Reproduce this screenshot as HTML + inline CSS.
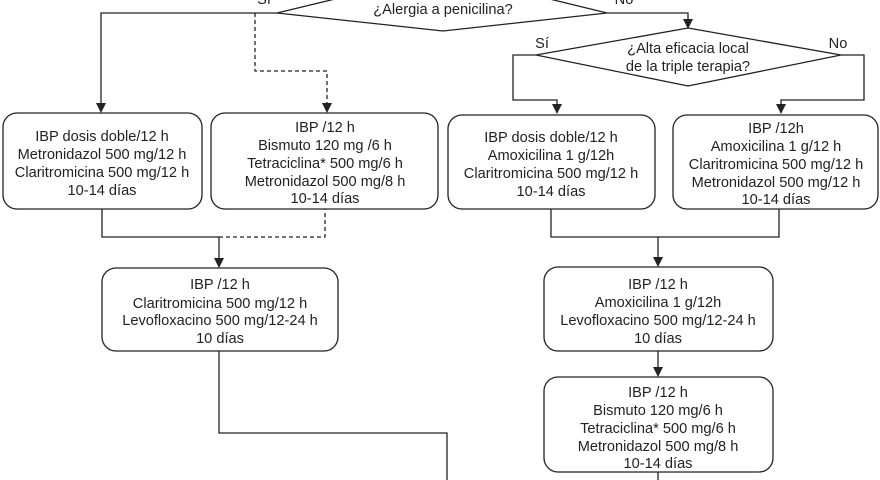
<!DOCTYPE html>
<html><head><meta charset="utf-8"><style>
html,body{margin:0;padding:0;background:#fff;}
svg{display:block}
text{font-family:"Liberation Sans",sans-serif;font-size:14.6px;fill:#222;text-anchor:middle}
</style></head><body>
<svg width="880" height="480" viewBox="0 0 880 480" xmlns="http://www.w3.org/2000/svg">
<g stroke="#222" stroke-width="1.3" fill="none">
<polygon points="443,-27 607,13 443,31 277,13" fill="#fff"/>
<polyline points="277,13 101,13 101,104"/>
<polyline points="255,13 255,71 327,71 327,104" stroke-dasharray="4,3"/>
<polyline points="607,13 688,13 688,20"/>
<polygon points="688,28 841,55 688,86 536,55" fill="#fff"/>
<polyline points="536,55 513,55 513,100 557,100 557,104"/>
<polyline points="841,55 864,55 864,100 781,100 781,104"/>
<rect x="3" y="113" width="199" height="96" rx="14"/>
<rect x="211" y="113" width="227" height="96" rx="14"/>
<rect x="448" y="115" width="207" height="94" rx="14"/>
<rect x="673" y="115" width="205" height="94" rx="14"/>
<polyline points="102,209 102,237 219,237"/>
<polyline points="219,237 325,237 325,209" stroke-dasharray="4,3"/>
<line x1="219" y1="237" x2="219" y2="259"/>
<polyline points="551,209 551,237 779,237 779,209"/>
<line x1="658" y1="237" x2="658" y2="258"/>
<rect x="102" y="268" width="236" height="83" rx="14"/>
<rect x="544" y="267" width="229" height="84" rx="14"/>
<line x1="658" y1="351" x2="658" y2="368"/>
<rect x="544" y="377" width="229" height="95" rx="14"/>
<line x1="658" y1="472" x2="658" y2="480"/>
<polyline points="219,351 219,433 447,433 447,480"/>
</g>
<g fill="#222">
<path d="M96,103 L106,103 L101,113 z"/>
<path d="M322,103 L332,103 L327,113 z"/>
<path d="M683,19 L693,19 L688,29 z"/>
<path d="M552,104 L562,104 L557,114 z"/>
<path d="M776,104 L786,104 L781,114 z"/>
<path d="M214,258 L224,258 L219,268 z"/>
<path d="M653,257 L663,257 L658,267 z"/>
<path d="M653,367 L663,367 L658,377 z"/>
</g>
<text x="443" y="14">¿Alergia a penicilina?</text>
<text x="264" y="4">Sí</text>
<text x="624" y="4">No</text>
<text x="688" y="53">¿Alta eficacia local</text>
<text x="688" y="71">de la triple terapia?</text>
<text x="542" y="48">Sí</text>
<text x="838" y="48">No</text>
<text x="102" y="141">IBP dosis doble/12 h</text>
<text x="102" y="159">Metronidazol 500 mg/12 h</text>
<text x="102" y="177">Claritromicina 500 mg/12 h</text>
<text x="102" y="195">10-14 días</text>
<text x="325" y="132">IBP /12 h</text>
<text x="325" y="150">Bismuto 120 mg /6 h</text>
<text x="325" y="168">Tetraciclina* 500 mg/6 h</text>
<text x="325" y="186">Metronidazol 500 mg/8 h</text>
<text x="325" y="203">10-14 días</text>
<text x="551" y="142">IBP dosis doble/12 h</text>
<text x="551" y="160">Amoxicilina 1 g/12h</text>
<text x="551" y="178">Claritromicina 500 mg/12 h</text>
<text x="551" y="196">10-14 días</text>
<text x="776" y="133">IBP /12h</text>
<text x="776" y="151">Amoxicilina 1 g/12 h</text>
<text x="776" y="169">Claritromicina 500 mg/12 h</text>
<text x="776" y="187">Metronidazol 500 mg/12 h</text>
<text x="776" y="204">10-14 días</text>
<text x="220" y="289">IBP /12 h</text>
<text x="220" y="308">Claritromicina 500 mg/12 h</text>
<text x="220" y="325">Levofloxacino 500 mg/12-24 h</text>
<text x="220" y="343">10 días</text>
<text x="658" y="289">IBP /12 h</text>
<text x="658" y="307">Amoxicilina 1 g/12h</text>
<text x="658" y="325">Levofloxacino 500 mg/12-24 h</text>
<text x="658" y="343">10 días</text>
<text x="658" y="397">IBP /12 h</text>
<text x="658" y="415">Bismuto 120 mg/6 h</text>
<text x="658" y="433">Tetraciclina* 500 mg/6 h</text>
<text x="658" y="451">Metronidazol 500 mg/8 h</text>
<text x="658" y="468">10-14 días</text>
</svg>
</body></html>
